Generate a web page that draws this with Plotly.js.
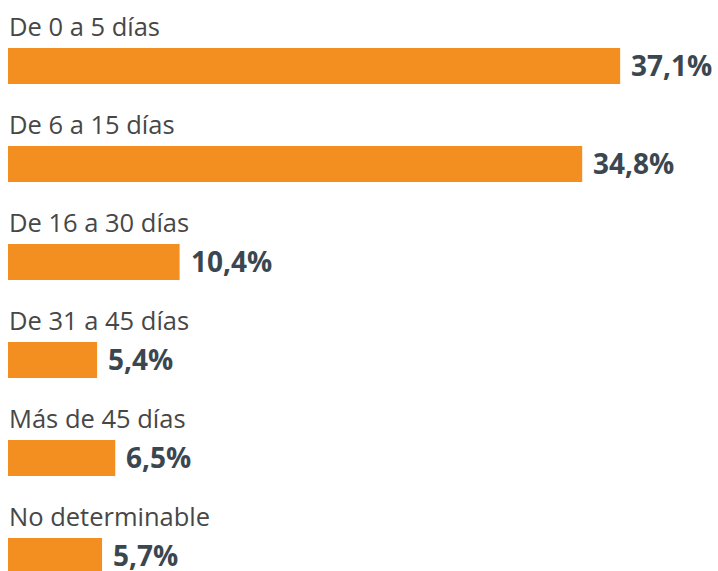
<!DOCTYPE html>
<html><head><meta charset="utf-8">
<script src="https://cdn.plot.ly/plotly-3.0.1.min.js"></script>
<style>body{margin:0;background:#fff}#c{width:718px;height:571px}</style>
</head><body><div id="c"></div>
<script>
const categories = ["De 0 a 5 días","De 6 a 15 días","De 16 a 30 días","De 31 a 45 días","Más de 45 días","No determinable"];
const values = [37.1, 34.8, 10.4, 5.4, 6.5, 5.7];
const valueLabels = ["37,1%","34,8%","10,4%","5,4%","6,5%","5,7%"];

const idx = categories.map((c,i)=>i);
const annotations = [];
categories.forEach((c,i)=>{
  annotations.push({x:0,y:i,xref:'x',yref:'y',text:c,showarrow:false,xanchor:'left',yanchor:'middle',xshift:-1,yshift:40,
    font:{family:'Open Sans, sans-serif',size:25.5,color:'#474747'}});
  annotations.push({x:values[i],y:i,xref:'x',yref:'y',text:valueLabels[i],showarrow:false,xanchor:'left',yanchor:'middle',xshift:9,yshift:1,
    font:{family:'Open Sans, sans-serif',size:28,color:'#3b4750',weight:700}});
});
Plotly.newPlot('c',[{type:'bar',orientation:'h',x:values,y:idx,width:0.367,
  marker:{color:'#f28f20',line:{width:0}},hoverinfo:'skip'}],
 {width:718,height:571,margin:{l:8,r:0,t:0,b:0},paper_bgcolor:'#fff',plot_bgcolor:'#fff',
  xaxis:{range:[0,43.03],visible:false,fixedrange:true},
  yaxis:{range:[5.153,-0.673],visible:false,fixedrange:true},
  showlegend:false,annotations:annotations},{staticPlot:true});
</script></body></html>
